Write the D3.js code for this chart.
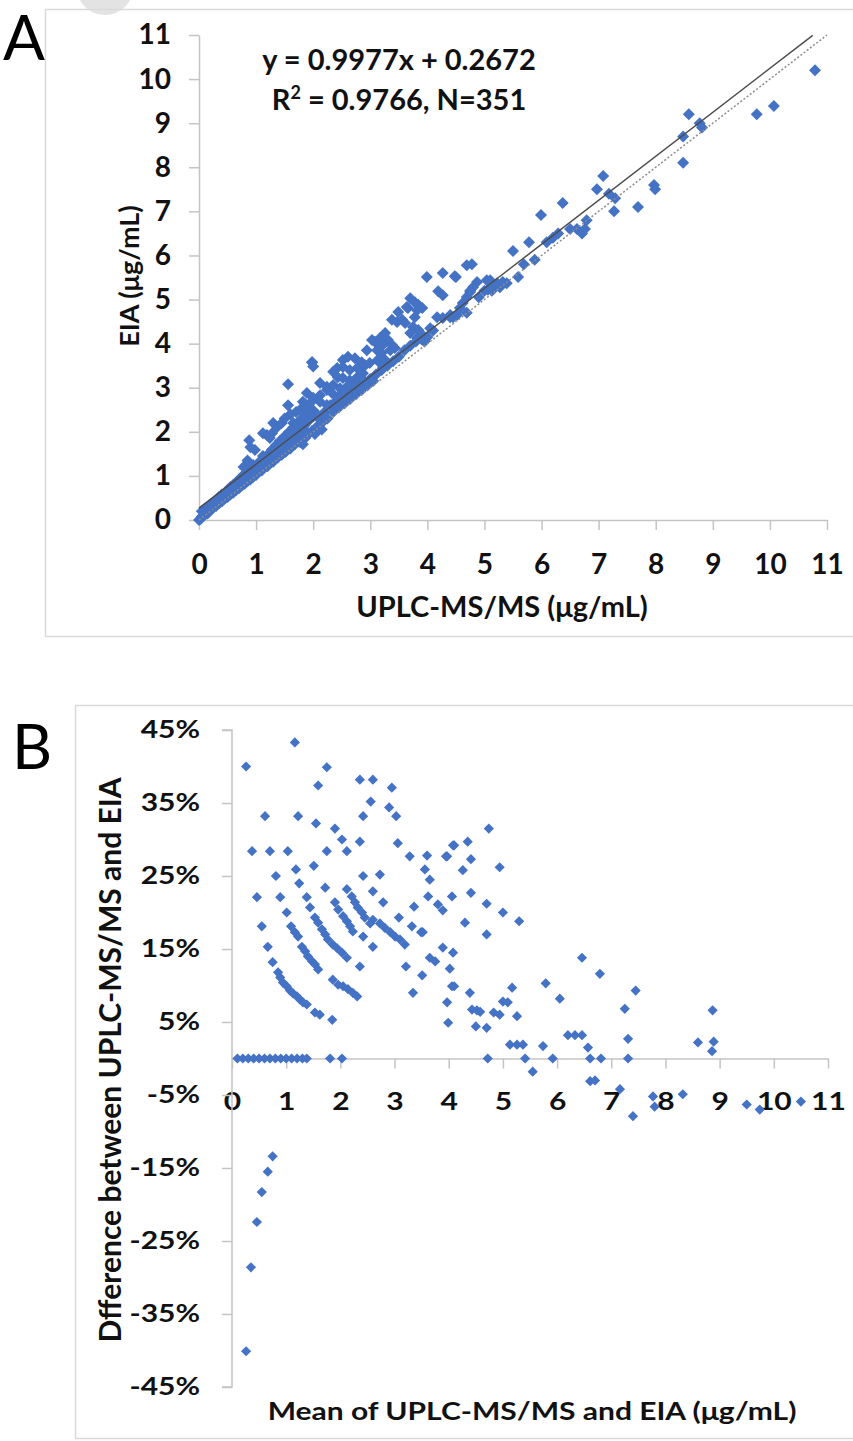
<!DOCTYPE html>
<html><head><meta charset="utf-8">
<script src="https://cdn.jsdelivr.net/npm/d3@7"></script>
<style>
html,body{margin:0;padding:0;background:#fff;}
svg{display:block;font-family:Lato,"Open Sans",sans-serif;}
</style></head>
<body>
<svg id="chart" width="853" height="1441"></svg>
<script>
// ---------- DATA ----------
const ticksA = [0,1,2,3,4,5,6,7,8,9,10,11];
const ticksBx = [0,1,2,3,4,5,6,7,8,9,10,11];
const ticksBy = [-0.45,-0.35,-0.25,-0.15,-0.05,0.05,0.15,0.25,0.35,0.45];
const trendSlope = 0.9977, trendIntercept = 0.2672, trendXmax = 10.75;
const identityMax = 11;

// Panel A: [UPLC-MS/MS, EIA] in µg/mL
const scatterA = [
[0,0],[0.03,0.02],[0.05,0.08],[0.08,0.1],[0.1,0.12],[0.12,0.2],[0.15,0.15],[0.18,0.25],[0.2,0.22],[0.22,0.3],
[0.25,0.28],[0.28,0.35],[0.3,0.32],[0.32,0.4],[0.35,0.38],[0.38,0.45],[0.4,0.42],[0.42,0.5],[0.45,0.48],[0.48,0.56],
[0.5,0.52],[0.52,0.6],[0.55,0.58],[0.58,0.66],[0.6,0.62],[0.62,0.72],[0.65,0.68],[0.68,0.76],[0.7,0.72],[0.72,0.82],
[0.75,0.78],[0.78,0.88],[0.8,0.82],[0.82,0.95],[0.85,0.88],[0.88,1.0],[0.9,0.92],[0.92,1.05],[0.95,0.98],[0.98,1.12],
[1.0,1.02],[0.15,0.3],[0.25,0.4],[0.35,0.52],[0.45,0.62],[0.55,0.75],[0.65,0.85],[0.75,0.98],[0.85,1.1],[0.95,1.25],
[0.88,1.81],[0.9,1.65],[0.98,1.59],[0.1,0.25],[0.2,0.35],[0.05,0.2],[0.3,0.45],[0.4,0.58],[0.5,0.68],[0.6,0.8],
[0.7,0.92],[0.8,1.05],[0.9,1.18],[0.85,1.35],[0.78,1.2],
[1.0,1.1],[1.02,1.25],[1.05,1.15],[1.08,1.35],[1.1,1.12],[1.12,1.45],[1.15,1.25],[1.18,1.3],[1.2,1.22],[1.22,1.5],
[1.25,1.35],[1.28,1.6],[1.3,1.32],[1.32,1.45],[1.35,1.7],[1.38,1.42],[1.4,1.55],[1.42,1.8],[1.45,1.48],[1.48,1.65],
[1.5,1.9],[1.52,1.55],[1.55,1.75],[1.58,2.0],[1.6,1.62],[1.62,1.85],[1.65,2.1],[1.68,1.72],[1.7,1.95],[1.72,2.2],
[1.75,1.78],[1.78,2.05],[1.8,2.3],[1.82,1.85],[1.85,2.15],[1.88,2.4],[1.9,1.93],[1.92,2.25],[1.95,2.5],[1.98,2.02],
[2.0,2.35],[1.19,1.93],[1.28,1.97],[1.12,1.97],[1.24,1.86],[1.37,2.11],[1.45,2.2],[1.77,1.77],[1.86,1.86],
[1.56,3.08],[1.56,2.6],[1.98,3.58],[2.0,3.48],[1.82,1.72],[2.03,1.95],[1.73,1.81],[1.89,2.0],
[1.3,2.2],[1.6,2.4],[1.7,2.45],[1.77,2.5],[1.89,2.6],[1.5,2.3],[1.65,2.2],[2.0,2.72],[2.12,2.83],[2.24,2.95],
[1.1,1.3],[1.2,1.42],[1.3,1.55],[1.4,1.68],[1.5,1.78],[1.6,1.9],[1.7,2.05],[1.8,2.15],[1.9,2.3],[2.0,2.45],
[2.05,2.1],[2.1,2.3],[2.15,2.2],[2.2,2.45],[2.25,2.3],[2.3,2.6],[2.35,2.45],[2.4,2.7],[2.45,2.55],[2.5,2.8],
[2.55,2.65],[2.6,2.9],[2.65,2.75],[2.7,3.0],[2.75,2.85],[2.8,3.05],[2.85,2.95],[2.9,3.15],[2.95,3.05],[3.0,3.2],
[3.05,3.15],[3.1,3.3],[3.2,3.4],[3.3,3.5],[3.4,3.6],[3.5,3.7],[3.6,3.85],[3.7,3.95],[3.8,4.05],[3.9,4.1],
[2.15,2.05],[3.17,3.56],[3.22,3.45],[3.87,4.15],
[1.98,3.58],[2.52,3.63],[2.61,3.70],[2.73,3.67],[2.85,3.58],[2.42,3.45],[2.52,3.47],[2.64,3.40],[2.77,3.45],[2.91,3.51],
[2.99,3.56],[2.35,3.36],[2.43,3.24],[2.52,3.22],[2.64,3.17],[2.77,3.24],[2.87,3.33],[2.12,3.11],[2.24,3.02],[2.35,3.06],
[2.47,2.99],[2.59,3.02],[2.70,3.11],[2.33,2.88],[2.43,2.79],[2.59,2.88],[1.89,2.88],[2.00,2.77],[2.12,2.68],[2.24,2.61],
[2.35,2.56],[2.47,2.68],[2.59,2.79],[1.82,2.68],[1.86,2.54],[2.00,2.49],[2.08,2.38],[2.21,2.34],
[3.26,4.24],[3.17,4.13],[3.08,4.04],[3.22,3.97],[3.31,4.08],[3.38,3.97],[3.43,3.90],[3.35,3.85],[3.03,4.08],[2.94,3.85],
[3.12,3.85],[3.20,3.79],[3.13,3.63],[3.26,3.63],
[3.70,5.03],[3.78,4.94],[3.84,4.88],[3.91,4.81],[3.82,4.76],[3.64,4.83],[3.49,4.72],[3.38,4.54],[3.47,4.49],[3.56,4.54],
[3.61,4.47],[3.75,4.38],[3.84,4.31],[3.91,4.20],[3.82,4.13],[3.70,4.24],[3.66,4.81],[3.78,4.60],
[4.17,4.60],[4.27,4.58],[4.40,4.60],[4.52,4.65],[4.57,4.81],[4.62,4.92],[4.69,4.70],[4.05,4.35],[4.1,4.3],[4.0,4.15],
[3.95,4.05],[4.4,4.65],[4.45,4.6],[4.9,5.05],[5.0,5.2],
[3.99,5.51],[4.27,5.60],[4.48,5.53],[4.19,5.19],[4.27,5.10],[4.69,5.78],[4.78,5.80],[4.50,5.51],
[4.87,5.40],[4.80,5.28],[4.75,5.17],[4.69,5.06],[5.10,5.44],[5.22,5.37],[5.32,5.40],[5.06,5.22],[5.15,5.26],[5.27,5.28],
[5.39,5.37],[5.04,5.44],[5.13,5.20],[4.75,5.20],
[5.59,5.51],[5.69,5.80],[5.88,5.90],[5.50,6.10],[5.78,6.30],[5.99,6.92],[6.37,7.19],[6.09,6.3],[6.20,6.4],[6.29,6.5],
[6.50,6.6],[6.62,6.6],[6.71,6.5],[6.76,6.6],[6.79,6.8],[6.97,7.5],[7.08,7.8],[7.18,7.4],[7.29,7.3],[7.27,7.0],
[7.69,7.1],[7.97,7.6],[7.99,7.5],[8.48,8.1],[8.48,8.7],[8.58,9.2],[8.77,9.0],[8.81,8.9],[9.77,9.2],[10.07,9.39],
[10.79,10.2]
];

// Panel B: [mean of methods (µg/mL), relative difference]
const scatterB = [
[0.1,0],[0.2,0],[0.3,0],[0.4,0],[0.5,0],[0.6,0],[0.7,0],[0.8,0],[0.9,0],[1.0,0],[1.1,0],[1.2,0],[1.3,0],[1.38,0],
[1.81,0],[2.03,0],
[0.26,0.40],[1.16,0.433],[0.61,0.332],[0.37,0.284],[0.70,0.284],[1.03,0.284],[1.22,0.332],[1.75,0.399],[1.59,0.374],
[1.55,0.322],[1.90,0.315],[1.75,0.284],[2.03,0.30],[2.12,0.284],[2.36,0.382],[2.60,0.382],[2.56,0.352],[2.42,0.332],
[2.36,0.297],[2.95,0.371],[2.90,0.344],[3.03,0.332],[3.06,0.295],[1.51,0.264],[1.18,0.259],[0.81,0.25],[0.46,0.221],
[0.89,0.221],[0.55,0.181],[0.66,0.153],[0.75,0.132],[0.85,0.118],[1.01,0.20],[1.24,0.24],[1.72,0.234],[2.42,0.25],
[2.36,0.126],[2.42,0.167],[2.60,0.229],[2.60,0.153],[2.79,0.214],[2.73,0.252],[3.08,0.193],[3.21,0.126],[3.28,0.277],
[3.32,0.181],[3.36,0.208],[3.34,0.09],[3.49,0.173],[3.51,0.114],[3.60,0.278],[3.62,0.222],[3.65,0.138],[3.75,0.133],
[3.97,0.277],[4.08,0.292],[4.06,0.222],[3.89,0.152],[4.08,0.145],[4.02,0.123],[4.06,0.099],[3.97,0.077],[3.99,0.049],
[0.89,0.111],[0.94,0.104],[1.01,0.099],[1.07,0.093],[1.13,0.089],[1.20,0.085],[1.25,0.081],[1.31,0.077],[1.38,0.074],
[1.53,0.063],[1.62,0.06],[1.85,0.053],
[1.09,0.181],[1.16,0.173],[1.22,0.167],[1.29,0.153],[1.35,0.147],[1.40,0.14],[1.48,0.133],[1.53,0.129],[1.59,0.122],
[1.38,0.221],[1.44,0.207],[1.53,0.193],[1.59,0.186],[1.66,0.177],[1.72,0.17],[1.77,0.163],[1.86,0.156],[1.94,0.151],
[2.03,0.145],[2.12,0.138],
[1.90,0.214],[1.96,0.204],[2.05,0.195],[2.12,0.188],[2.18,0.181],[2.23,0.174],
[1.86,0.108],[1.96,0.101],[2.05,0.099],[2.14,0.095],[2.23,0.09],[2.31,0.085],
[2.12,0.232],[2.21,0.222],[2.27,0.214],[2.32,0.207],[2.40,0.20],[2.45,0.193],[2.55,0.185],
[2.60,0.19],[2.73,0.185],[2.82,0.179],[2.92,0.173],[3.01,0.167],[3.10,0.163],[3.19,0.156],
[4.74,0.315],[4.94,0.262],[4.35,0.297],[4.10,0.292],[3.95,0.277],[4.41,0.273],[4.26,0.258],[3.56,0.259],[3.65,0.245],
[4.41,0.227],[3.80,0.211],[3.89,0.203],[4.70,0.212],[5.00,0.20],[5.30,0.188],[4.30,0.186],[4.70,0.17],[3.52,0.173],
[4.10,0.099],[4.39,0.09],[4.43,0.067],[4.52,0.066],[4.58,0.064],[4.50,0.044],[4.70,0.042],[4.72,0],
[4.83,0.063],[4.94,0.06],[5.0,0.078],[5.09,0.077],[5.17,0.097],[5.26,0.058],[5.13,0.019],[5.26,0.019],[5.37,0.019],
[5.41,0],[5.55,-0.018],[5.74,0.017],[5.79,0.103],[5.92,0],[6.05,0.082],[6.2,0.032],[6.33,0.032],[6.46,0.032],
[6.46,0.138],[6.57,0.015],[6.61,0],[6.61,-0.031],[6.70,-0.03],[6.79,0.116],[6.81,0],[7.16,-0.042],[7.25,0.068],
[7.31,0.027],[7.31,0],[7.45,0.093],[7.40,-0.079],[7.77,-0.052],[7.80,-0.066],[8.32,-0.049],[8.60,0.022],[8.87,0.066],
[8.89,0.023],[8.86,0.01],[9.50,-0.063],[9.74,-0.07],[10.50,-0.059],
[0.75,-0.134],[0.66,-0.155],[0.55,-0.183],[0.46,-0.224],[0.35,-0.286],[0.26,-0.401]
];

// ---------- DRAW ----------
const svg = d3.select("#chart");
const blue = "#4472c4";
const axisGrey = "#c4c4c4";
const fontCol = "#111";
const FONT = "Lato, sans-serif";

// decorative grey blob at top (from page scan)
svg.append("ellipse").attr("cx",105).attr("cy",-12).attr("rx",28).attr("ry",27).attr("fill","#e3e3e3");

// panel frames
svg.append("rect").attr("x",45.5).attr("y",9.5).attr("width",820).attr("height",627)
  .attr("fill","none").attr("stroke","#d9d9d9").attr("stroke-width",1.5);
svg.append("rect").attr("x",75.5).attr("y",705.5).attr("width",800).attr("height",733)
  .attr("fill","none").attr("stroke","#d9d9d9").attr("stroke-width",1.5);

// panel letters
svg.append("text").attr("x",3).attr("y",60).text("A")
  .attr("font-size",62).attr("fill","#000").attr("font-family",FONT);
svg.append("text").attr("x",12).attr("y",769).text("B")
  .attr("font-size",62).attr("fill","#000").attr("font-family",FONT);

function styleAxis(g, fs){
  g.selectAll("path.domain").attr("stroke",axisGrey).attr("stroke-width",1.5);
  g.selectAll(".tick line").attr("stroke",axisGrey).attr("stroke-width",1.5);
  g.selectAll(".tick text").attr("font-size",fs).attr("font-weight","bold")
    .attr("fill",fontCol).attr("font-family",FONT);
}
const diamond = s => d3.symbol(d3.symbolSquare, s)();

// ---------- Panel A ----------
const xA = d3.scaleLinear().domain([0,11]).range([199,827]);
const yA = d3.scaleLinear().domain([0,11]).range([520,35]);

const gAx = svg.append("g").attr("transform",`translate(0,${yA(0)})`)
  .call(d3.axisBottom(xA).tickValues(ticksA).tickSize(10).tickSizeOuter(0).tickPadding(24).tickFormat(d3.format("d")));
styleAxis(gAx, 28);
const gAy = svg.append("g").attr("transform",`translate(${xA(0)},0)`)
  .call(d3.axisLeft(yA).tickValues(ticksA).tickSize(10).tickSizeOuter(0).tickPadding(18).tickFormat(d3.format("d")));
styleAxis(gAy, 28);

// points
svg.append("g").selectAll("path").data(scatterA).join("path")
  .attr("d",diamond(72))
  .attr("transform",d=>`translate(${xA(d[0])},${yA(d[1])}) rotate(45)`)
  .attr("fill",blue);

// identity (dotted) and trend line (solid)
svg.append("line").attr("x1",xA(0)).attr("y1",yA(0)).attr("x2",xA(identityMax)).attr("y2",yA(identityMax))
  .attr("stroke","#8c8c8c").attr("stroke-width",1.5).attr("stroke-dasharray","2,2");
svg.append("line").attr("x1",xA(0)).attr("y1",yA(trendIntercept))
  .attr("x2",xA(trendXmax)).attr("y2",yA(trendSlope*trendXmax+trendIntercept))
  .attr("stroke","#4d4d4d").attr("stroke-width",1.5);

// equation
const eq = svg.append("g").attr("font-family",FONT).attr("font-weight","bold").attr("font-size",29).attr("fill",fontCol);
eq.append("text").attr("x",399).attr("y",70).attr("text-anchor","middle").text("y = 0.9977x + 0.2672");
const r2 = eq.append("text").attr("x",399).attr("y",110).attr("text-anchor","middle");
r2.append("tspan").text("R");
r2.append("tspan").attr("font-size",18).attr("dy",-11).text("2");
r2.append("tspan").attr("dy",11).text(" = 0.9766, N=351");

// axis titles
svg.append("text").attr("x",502).attr("y",617).attr("text-anchor","middle").attr("font-family",FONT)
  .attr("font-size",29).attr("font-weight","bold").attr("fill",fontCol).text("UPLC-MS/MS (μg/mL)");
svg.append("text").attr("transform",`translate(139,276) rotate(-90)`).attr("text-anchor","middle").attr("font-family",FONT)
  .attr("font-size",27).attr("font-weight","bold").attr("fill",fontCol).text("EIA (μg/mL)");

// ---------- Panel B ----------
const xB = d3.scaleLinear().domain([0,11]).range([232,828]);
const yB = d3.scaleLinear().domain([-0.45,0.45]).range([1387,730]);
const stretch = 1.25; // panel B text in the figure is horizontally stretched

const gBx = svg.append("g").attr("transform",`translate(0,${yB(0)})`)
  .call(d3.axisBottom(xB).tickValues(ticksBx).tickSize(10).tickSizeOuter(0).tickPadding(24).tickFormat(d3.format("d")));
styleAxis(gBx, 24);
gBx.selectAll(".tick text").attr("transform",`scale(${stretch},1)`);
const gBy = svg.append("g").attr("transform",`translate(${xB(0)},0)`)
  .call(d3.axisLeft(yB).tickValues(ticksBy).tickSize(10).tickSizeOuter(0).tickPadding(22)
  .tickFormat(d=>Math.round(d*100)+"%"));
styleAxis(gBy, 24);
gBy.selectAll(".tick text").attr("x",-32/stretch).attr("transform",`scale(${stretch},1)`);
gBy.select("path.domain").attr("d",`M-10,${yB(0.45)}H0V${yB(-0.45)}H-10`);

svg.append("g").selectAll("path").data(scatterB).join("path")
  .attr("d",diamond(52))
  .attr("transform",d=>`translate(${xB(d[0])},${yB(d[1])}) rotate(45)`)
  .attr("fill",blue);

svg.append("text").attr("transform",`translate(532,1420) scale(${stretch},1)`).attr("text-anchor","middle").attr("font-family",FONT)
  .attr("font-size",24).attr("font-weight","bold").attr("fill",fontCol).text("Mean of UPLC-MS/MS and EIA (μg/mL)");
svg.append("text").attr("transform",`translate(121,1060) rotate(-90)`).attr("text-anchor","middle").attr("font-family",FONT)
  .attr("font-size",30).attr("font-weight","bold").attr("fill",fontCol).text("Dfference between UPLC-MS/MS and EIA");
</script>
</body></html>
